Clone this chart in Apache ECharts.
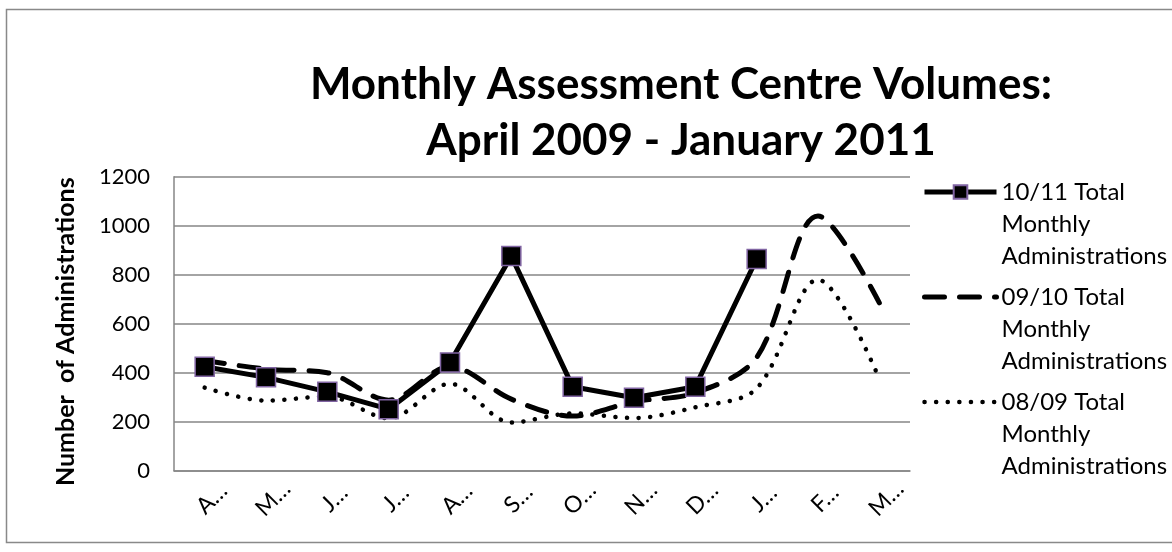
<!DOCTYPE html>
<html>
<head>
<meta charset="utf-8">
<script src="https://cdn.jsdelivr.net/npm/echarts@6/dist/echarts.min.js"></script>
<style>
html,body{margin:0;padding:0;background:#fff;}
#chart{width:1172px;height:552px;}
</style>
</head>
<body>
<div id="chart"></div>
<script>
// ---- data ----
const months = ["April", "May", "June", "July", "August", "September", "October", "November", "December", "January", "February", "March"];
const s1011Name = "10/11 Total Monthly Administrations";
const s0910Name = "09/10 Total Monthly Administrations";
const s0809Name = "08/09 Total Monthly Administrations";
const s1011 = [424, 381, 322, 251, 442, 876, 343, 298, 343, 864, null, null];
const s0910 = [450, 415, 400, 288, 425, 292, 223, 282, 318, 462, 1040, 685];
const s0809 = [339, 286, 303, 214, 355, 197, 234, 215, 259, 336, 780, 375];
const yTicks = { min: 0, max: 1200, interval: 200 };
const titleLines = ["Monthly Assessment Centre Volumes:", "April 2009 - January 2011"];
const yTitle = "Number  of Administrations";

const legendLabel = {};
legendLabel[s1011Name] = ["10/11 Total", "Monthly", "Administrations"];
legendLabel[s0910Name] = ["09/10 Total", "Monthly", "Administrations"];
legendLabel[s0809Name] = ["08/09 Total", "Monthly", "Administrations"];

const chart = echarts.init(document.getElementById('chart'), null, { renderer: 'canvas' });
const FONT = 'Lato';
const GRID = '#868686';
const DASH = [20, 15];
const DOT = [0.1, 11.5];

const option = {
  backgroundColor: '#ffffff',
  animation: false,
  graphic: [
    {
      type: 'rect', silent: true, z: -10,
      shape: { x: 6.5, y: 9.5, width: 1200, height: 533 },
      style: { fill: 'none', stroke: '#898989', lineWidth: 1.5 }
    },
    {
      type: 'text', x: 681, y: 57, silent: true,
      style: {
        text: titleLines.join('\n'), align: 'center', verticalAlign: 'top',
        font: 'bold 44px Lato', lineHeight: 56, fill: '#000000'
      }
    }
  ],
  grid: { left: 174, top: 176.7, width: 736, height: 294, containLabel: false },
  legend: {
    orient: 'vertical',
    left: 922,
    top: 112,
    padding: 0,
    itemWidth: 72,
    itemHeight: 17,
    itemGap: -55,
    data: [
      { name: s1011Name, lineStyle: { width: 5 } },
      { name: s0910Name, itemStyle: { opacity: 0 }, lineStyle: { width: 5, type: DASH, cap: 'round' } },
      { name: s0809Name, itemStyle: { opacity: 0 }, lineStyle: { width: 4.5, type: DOT, cap: 'round' } }
    ],
    formatter: function (name) { return '\n\n' + legendLabel[name].join('\n'); },
    textStyle: { fontFamily: FONT, fontSize: 24, color: '#000', lineHeight: 32 },
    selectedMode: false
  },
  xAxis: {
    type: 'category',
    data: months,
    boundaryGap: true,
    axisLine: { lineStyle: { color: GRID, width: 1.5 } },
    axisTick: { show: false },
    axisLabel: {
      rotate: 45, margin: 35, interval: 0, align: 'center', verticalAlign: 'middle',
      padding: [0, 0, 0, 20],
      fontFamily: FONT, fontSize: 23, color: '#000',
      formatter: function (v) { return v.charAt(0) + '\u2026'; }
    }
  },
  yAxis: {
    type: 'value',
    min: yTicks.min, max: yTicks.max, interval: yTicks.interval,
    name: yTitle,
    nameLocation: 'middle',
    nameRotate: 90,
    nameGap: 96,
    nameTextStyle: { fontFamily: FONT, fontWeight: 'bold', fontSize: 25, color: '#000', padding: [0, 16, 0, 0] },
    axisLine: { show: true, lineStyle: { color: GRID, width: 1.5 } },
    axisTick: { show: false },
    splitLine: { lineStyle: { color: GRID, width: 1.5 } },
    axisLabel: {
      margin: 24, fontFamily: FONT, fontSize: 22, color: '#000',
      formatter: function (v) { return String(v); }
    }
  },
  series: [
    {
      name: s1011Name, type: 'line', data: s1011, z: 5,
      symbol: 'rect', symbolSize: 19, showSymbol: true,
      itemStyle: { color: '#000000', borderColor: '#8064a2', borderWidth: 1.5 },
      lineStyle: { color: '#000000', width: 5 },
      connectNulls: false
    },
    {
      name: s0910Name, type: 'line', data: s0910, z: 3,
      smooth: 0.33, showSymbol: false, symbol: 'none',
      itemStyle: { color: '#000000' },
      lineStyle: { color: '#000000', width: 5, type: DASH, cap: 'round' }
    },
    {
      name: s0809Name, type: 'line', data: s0809, z: 3,
      smooth: 0.33, showSymbol: false, symbol: 'none',
      itemStyle: { color: '#000000' },
      lineStyle: { color: '#000000', width: 4.5, type: DOT, cap: 'round' }
    }
  ]
};
chart.setOption(option);
</script>
</body>
</html>
